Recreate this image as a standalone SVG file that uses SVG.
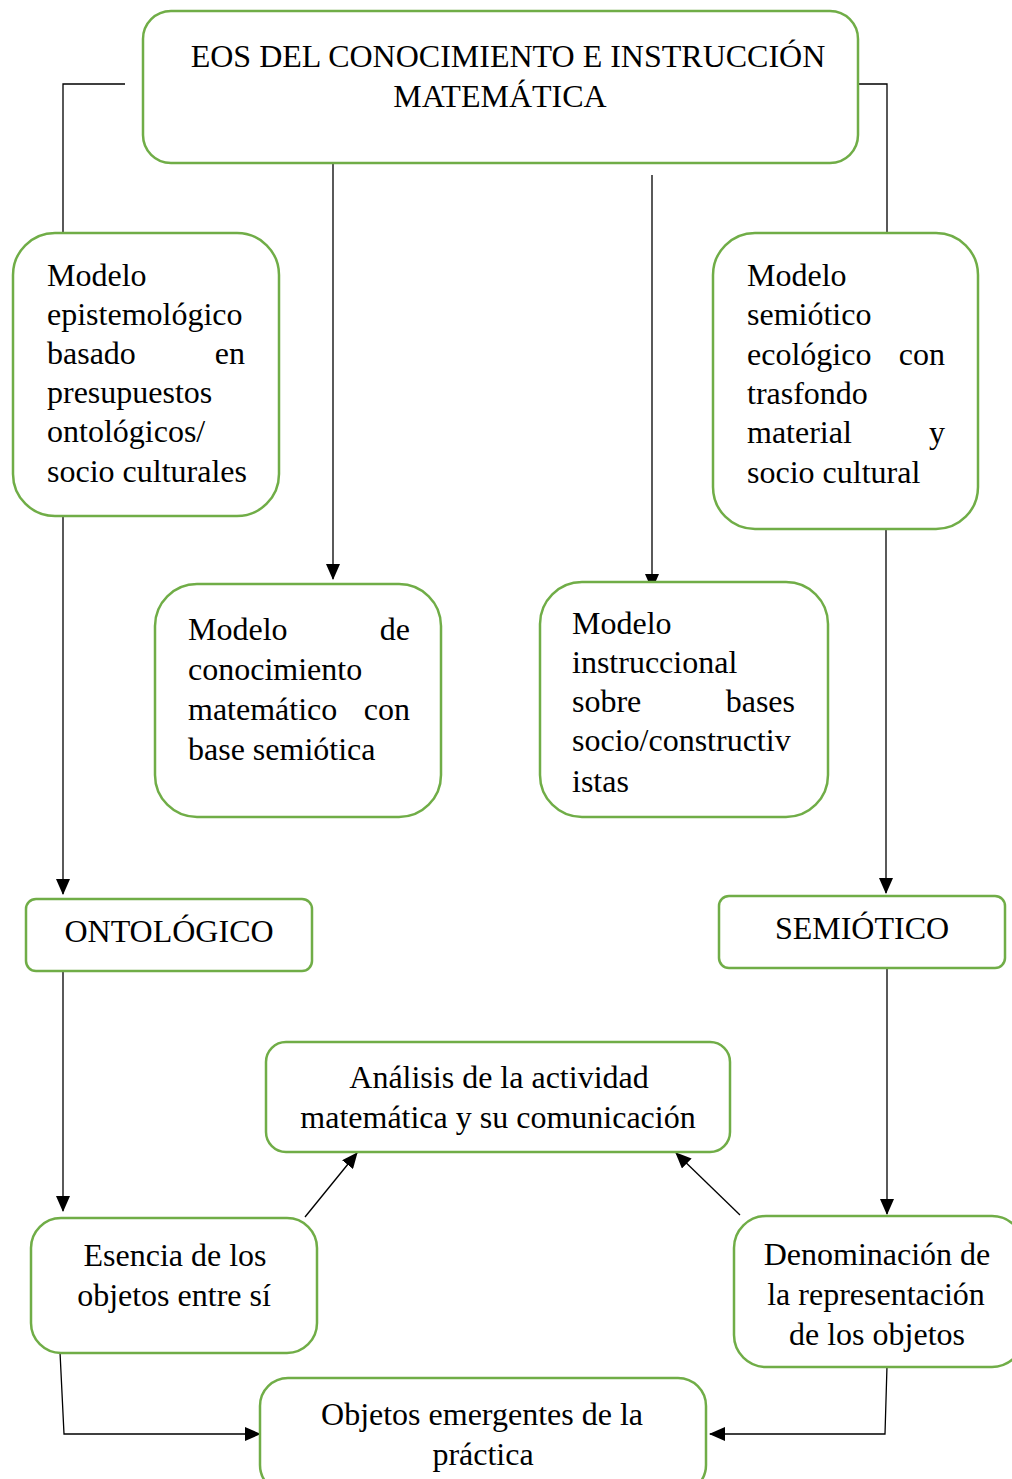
<svg xmlns="http://www.w3.org/2000/svg" width="1012" height="1479" viewBox="0 0 1012 1479">
<style>
.box{fill:#fff;stroke:#70AD47;stroke-width:2.5}
text{font-family:"Liberation Serif","Times New Roman",serif;font-size:32px;fill:#000}
.c{text-anchor:middle}
.e{text-anchor:end}
.ln{fill:none;stroke:#000;stroke-width:1.3}
</style>
<defs>
<marker id="ah" markerUnits="userSpaceOnUse" markerWidth="16" markerHeight="14" refX="15" refY="7" orient="auto">
<path d="M0,0 L16,7 L0,14 Z" fill="#000"/>
</marker>
</defs>
<rect width="1012" height="1479" fill="#fff"/>
<g id="connectors">
<polyline class="ln" points="125,84 63,84 63,232"/>
<polyline class="ln" points="858,84 887,84 887,232"/>
<line class="ln" x1="333" y1="163" x2="333" y2="579" marker-end="url(#ah)"/>
<line class="ln" x1="652" y1="175" x2="652" y2="589" marker-end="url(#ah)"/>
<line class="ln" x1="63" y1="516" x2="63" y2="894" marker-end="url(#ah)"/>
<line class="ln" x1="886" y1="529" x2="886" y2="893" marker-end="url(#ah)"/>
<line class="ln" x1="63" y1="971" x2="63" y2="1211" marker-end="url(#ah)"/>
<line class="ln" x1="887" y1="968" x2="887" y2="1214" marker-end="url(#ah)"/>
<line class="ln" x1="305" y1="1217" x2="357" y2="1153" marker-end="url(#ah)"/>
<line class="ln" x1="740" y1="1215" x2="676" y2="1153" marker-end="url(#ah)"/>
<polyline class="ln" points="60,1352 64,1434 260,1434" marker-end="url(#ah)"/>
<polyline class="ln" points="887,1366 885,1434 710,1434" marker-end="url(#ah)"/>
</g>
<g id="eos">
<rect class="box" x="143" y="11" width="715" height="152" rx="28"/>
<text class="c" x="508" y="67">EOS DEL CONOCIMIENTO E INSTRUCCIÓN</text>
<text class="c" x="500" y="107">MATEMÁTICA</text>
</g>
<g id="modelo-epistemologico">
<rect class="box" x="13" y="233" width="266" height="283" rx="42"/>
<text x="47" y="286">Modelo</text>
<text x="47" y="325">epistemológico</text>
<text x="47" y="364">basado</text><text class="e" x="245" y="364">en</text>
<text x="47" y="403">presupuestos</text>
<text x="47" y="442">ontológicos/</text>
<text x="47" y="482">socio culturales</text>
</g>
<g id="modelo-semiotico">
<rect class="box" x="713" y="233" width="265" height="296" rx="42"/>
<text x="747" y="286">Modelo</text>
<text x="747" y="325">semiótico</text>
<text x="747" y="365">ecológico</text><text class="e" x="945" y="365">con</text>
<text x="747" y="404">trasfondo</text>
<text x="747" y="443">material</text><text class="e" x="945" y="443">y</text>
<text x="747" y="483">socio cultural</text>
</g>
<g id="modelo-conocimiento">
<rect class="box" x="155" y="584" width="286" height="233" rx="42"/>
<text x="188" y="640">Modelo</text><text class="e" x="410" y="640">de</text>
<text x="188" y="680">conocimiento</text>
<text x="188" y="720">matemático</text><text class="e" x="410" y="720">con</text>
<text x="188" y="760">base semiótica</text>
</g>
<g id="modelo-instruccional">
<rect class="box" x="540" y="582" width="288" height="235" rx="42"/>
<text x="572" y="634">Modelo</text>
<text x="572" y="673">instruccional</text>
<text x="572" y="712">sobre</text><text class="e" x="795" y="712">bases</text>
<text x="572" y="751">socio/constructiv</text>
<text x="572" y="792">istas</text>
</g>
<g id="ontologico">
<rect class="box" x="26" y="899" width="286" height="72" rx="10"/>
<text class="c" x="169" y="942">ONTOLÓGICO</text>
</g>
<g id="semiotico">
<rect class="box" x="719" y="896" width="286" height="72" rx="10"/>
<text class="c" x="862" y="939">SEMIÓTICO</text>
</g>
<g id="analisis">
<rect class="box" x="266" y="1042" width="464" height="110" rx="20"/>
<text class="c" x="499" y="1088">Análisis de la actividad</text>
<text class="c" x="498" y="1128">matemática y su comunicación</text>
</g>
<g id="esencia">
<rect class="box" x="31" y="1218" width="286" height="135" rx="30"/>
<text class="c" x="175" y="1266">Esencia de los</text>
<text class="c" x="174" y="1306">objetos entre sí</text>
</g>
<g id="denominacion">
<rect class="box" x="734" y="1216" width="290" height="151" rx="32"/>
<text class="c" x="877" y="1265">Denominación de</text>
<text class="c" x="876" y="1305">la representación</text>
<text class="c" x="877" y="1345">de los objetos</text>
</g>
<g id="objetos-emergentes">
<rect class="box" x="260" y="1378" width="446" height="115" rx="28"/>
<text class="c" x="482" y="1425">Objetos emergentes de la</text>
<text class="c" x="483" y="1465">práctica</text>
</g>
</svg>
